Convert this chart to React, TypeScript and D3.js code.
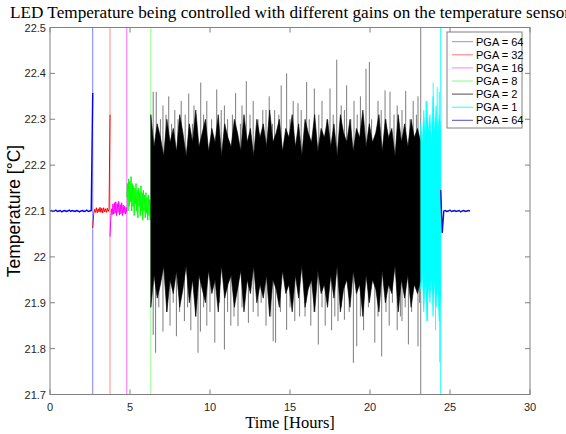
import React from 'react';
import * as d3 from 'd3';

// chart frame
const width = 566;
const height = 434;
const marginTop = 27.5;
const marginRight = 36;
const marginBottom = 39.5;
const marginLeft = 50;

// axis ticks
const xTicks = [0, 5, 10, 15, 20, 25, 30];
const yTicks = [21.7, 21.8, 21.9, 22, 22.1, 22.2, 22.3, 22.4, 22.5];

// legend entries, one per gain segment
const legendLabels = ['PGA = 64', 'PGA = 32', 'PGA = 16', 'PGA = 8', 'PGA = 2', 'PGA = 1', 'PGA = 64'];

// start / end of each segment [hours]
const segStart = [0, 2.67, 3.75, 4.8, 6.3, 23.17, 24.42];
const segEnd = [2.67, 3.75, 4.8, 6.3, 23.17, 24.42, 26.25];

// sparse segments: temperature trace (evenly spaced over the segment)
const blue1Trace = [22.100, 22.101, 22.099, 22.100, 22.102, 22.099, 22.100, 22.101, 22.098, 22.100,
  22.101, 22.099, 22.100, 22.102, 22.099, 22.101, 22.100, 22.099, 22.101, 22.100,
  22.098, 22.100, 22.101, 22.099, 22.100, 22.102, 22.099, 22.100, 22.101, 22.357];
const redTrace = [22.063, 22.092, 22.104, 22.097, 22.107, 22.096, 22.105, 22.098, 22.108, 22.097,
  22.106, 22.096, 22.107, 22.098, 22.105, 22.097, 22.106, 22.099, 22.104, 22.31];
const magentaTrace = [22.044, 22.08, 22.105, 22.092, 22.115, 22.093, 22.118, 22.095, 22.12, 22.09,
  22.116, 22.097, 22.121, 22.091, 22.114, 22.094, 22.118, 22.09, 22.113, 22.096, 22.11, 22.093, 22.108, 22.097];
const greenTrace = [22.13, 22.16, 22.10, 22.17, 22.11, 22.165, 22.12, 22.175, 22.10, 22.16,
  22.11, 22.155, 22.09, 22.15, 22.115, 22.16, 22.10, 22.145, 22.085, 22.15,
  22.11, 22.14, 22.09, 22.155, 22.10, 22.14, 22.08, 22.145, 22.10, 22.135,
  22.085, 22.14, 22.095, 22.13, 22.08, 22.135, 22.09, 22.125, 22.08, 22.12];
const blue2Trace = [22.146, 22.052, 22.100, 22.101, 22.099, 22.100, 22.102, 22.099, 22.100, 22.101,
  22.099, 22.100, 22.101, 22.098, 22.100, 22.101, 22.099, 22.100, 22.101, 22.100];

// dense segments: upper / lower envelope of the noise band
const blackUpper = [22.31, 22.24, 22.29, 22.26, 22.22, 22.30, 22.25, 22.28, 22.23, 22.31,
  22.27, 22.22, 22.29, 22.25, 22.32, 22.24, 22.27, 22.30, 22.23, 22.28,
  22.25, 22.31, 22.22, 22.29, 22.26, 22.24, 22.30, 22.27, 22.23, 22.31,
  22.25, 22.28, 22.22, 22.30, 22.26, 22.29, 22.24, 22.32, 22.25, 22.27,
  22.30, 22.23, 22.28, 22.26, 22.31, 22.24, 22.29, 22.22, 22.30, 22.27,
  22.25, 22.31, 22.23, 22.28, 22.26, 22.30, 22.24, 22.29, 22.22, 22.31,
  22.27, 22.25, 22.30, 22.23, 22.28, 22.26, 22.32, 22.24, 22.29, 22.25,
  22.27, 22.31, 22.23, 22.30, 22.26, 22.28, 22.22, 22.31, 22.25, 22.29,
  22.24, 22.30, 22.26, 22.28, 22.25];
const blackLower = [21.89, 21.96, 21.91, 21.94, 21.98, 21.88, 21.95, 21.92, 21.97, 21.89,
  21.93, 21.98, 21.90, 21.95, 21.87, 21.96, 21.93, 21.90, 21.97, 21.92,
  21.95, 21.88, 21.98, 21.91, 21.94, 21.96, 21.89, 21.93, 21.97, 21.88,
  21.95, 21.92, 21.98, 21.90, 21.94, 21.91, 21.96, 21.87, 21.95, 21.93,
  21.89, 21.97, 21.92, 21.94, 21.88, 21.96, 21.91, 21.98, 21.89, 21.93,
  21.95, 21.88, 21.97, 21.92, 21.94, 21.89, 21.96, 21.91, 21.98, 21.88,
  21.93, 21.95, 21.89, 21.97, 21.92, 21.94, 21.87, 21.96, 21.90, 21.95,
  21.93, 21.88, 21.97, 21.90, 21.94, 21.92, 21.98, 21.88, 21.95, 21.91,
  21.96, 21.89, 21.94, 21.92, 21.95];
// single spikes sticking out of the black band [hours, °C]
const blackSpikes: [number, number][] = [
  [6.45, 22.36], [6.64, 22.36], [7.06, 22.33], [7.42, 22.35], [7.8, 22.32], [8.2, 22.34], [8.67, 22.356],
  [9.0, 22.33], [9.42, 22.38], [9.8, 22.34], [10.42, 22.365], [10.9, 22.33], [11.6, 22.357], [12.0, 22.33],
  [12.27, 22.383], [12.7, 22.34], [13.3, 22.32], [13.7, 22.35], [14.04, 22.32], [14.45, 22.374], [14.79, 22.40],
  [15.2, 22.34], [15.5, 22.335], [16.04, 22.381], [16.52, 22.367], [17.0, 22.34], [17.5, 22.367], [17.92, 22.43],
  [18.2, 22.33], [18.54, 22.374], [19.0, 22.34], [19.4, 22.35], [19.75, 22.41], [19.96, 22.425], [20.5, 22.34],
  [20.94, 22.363], [21.25, 22.36], [21.7, 22.33], [22.23, 22.362], [22.7, 22.34], [23.0, 22.35],
  [6.9, 22.3], [7.25, 22.31], [7.6, 22.29], [8.0, 22.3], [8.45, 22.31], [8.9, 22.29], [9.6, 22.31], [10.1, 22.3],
  [10.7, 22.32], [11.1, 22.3], [11.4, 22.31], [11.9, 22.29], [12.5, 22.31], [13.0, 22.3], [13.5, 22.32],
  [13.9, 22.29], [14.3, 22.31], [15.0, 22.3], [15.7, 22.32], [16.2, 22.3], [16.8, 22.31], [17.3, 22.3],
  [17.7, 22.31], [18.4, 22.32], [18.8, 22.3], [19.2, 22.31], [20.1, 22.3], [20.7, 22.32], [21.0, 22.3],
  [21.5, 22.31], [22.0, 22.32], [22.5, 22.3], [22.9, 22.31],
  [6.45, 21.83], [6.6, 21.791], [7.06, 21.837], [7.5, 21.85], [7.9, 21.827], [8.4, 21.86], [8.8, 21.84],
  [9.25, 21.791], [9.4, 21.837], [9.8, 21.85], [10.3, 21.813], [10.9, 21.798], [11.3, 21.85], [11.75, 21.849],
  [12.4, 21.856], [13.0, 21.87], [13.5, 21.85], [13.95, 21.816], [14.1, 21.813], [14.79, 21.841], [15.3, 21.86],
  [15.94, 21.87], [16.3, 21.85], [16.77, 21.809], [17.2, 21.85], [17.6, 21.84], [18.0, 21.86], [18.4, 21.863],
  [18.96, 21.769], [19.17, 21.805], [19.6, 21.84], [20.3, 21.813], [20.73, 21.783], [21.2, 21.85], [21.7, 21.84],
  [22.0, 21.86], [22.4, 21.809], [23.0, 21.805],
  [6.8, 21.89], [7.3, 21.88], [7.7, 21.9], [8.1, 21.88], [8.6, 21.89], [9.1, 21.87], [9.6, 21.89], [10.0, 21.88],
  [10.6, 21.9], [11.1, 21.88], [11.5, 21.87], [12.0, 21.89], [12.7, 21.88], [13.2, 21.9], [13.8, 21.87],
  [14.4, 21.88], [15.0, 21.89], [15.6, 21.87], [16.0, 21.9], [16.5, 21.88], [17.0, 21.89], [17.8, 21.87],
  [18.2, 21.89], [18.7, 21.88], [19.4, 21.87], [19.9, 21.89], [20.5, 21.87], [21.0, 21.88], [21.4, 21.9],
  [21.9, 21.87], [22.2, 21.89], [22.6, 21.88], [23.1, 21.9]];
const cyanUpper = [22.29, 22.25, 22.32, 22.26, 22.34, 22.27, 22.31, 22.25, 22.35, 22.27, 22.33, 22.26, 22.31, 22.28];
const cyanLower = [21.93, 21.96, 21.88, 21.95, 21.86, 21.94, 21.90, 21.96, 21.87, 21.95, 21.89, 21.94, 21.86, 21.92];
const cyanSpikes: [number, number][] = [[23.5, 22.34], [23.95, 22.38], [24.2, 22.37], [24.33, 22.36],
  [23.6, 21.86], [24.1, 21.84], [24.36, 21.77]];

const colors = ['#0000ff', '#ff0000', '#ff00ff', '#00ff00', '#000000', '#00ffff', '#1010c8'];
const legendOpacity = [0.45, 0.55, 0.5, 0.5, 0.7, 0.85, 0.75];
const jumpOpacity = [0.5, 0.45, 0.6, 0.45, 0.5, 0.9];

const sans = "'Liberation Sans', Arial, Helvetica, sans-serif";
const serif = "'Liberation Serif', 'Times New Roman', serif";

// spread n values evenly over a segment
const spread = (vals: number[], i: number): [number, number][] =>
  vals.map((v, k) => [segStart[i] + (k * (segEnd[i] - segStart[i])) / (vals.length - 1), v]);

const App = () => {
  const x = d3.scaleLinear([0, 30], [marginLeft, width - marginRight]);
  const y = d3.scaleLinear([21.7, 22.5], [height - marginBottom, marginTop]);

  const line = d3.line<[number, number]>()
    .x(d => x(d[0]))
    .y(d => y(d[1]));

  const band = (hi: number[], lo: number[], i: number) => {
    const h = spread(hi, i);
    const l = spread(lo, i);
    return d3.area<number>()
      .x(k => x(h[k][0]))
      .y0(k => y(l[k][1]))
      .y1(k => y(h[k][1]))(d3.range(h.length)) as string;
  };

  const traces: (number[] | null)[] = [blue1Trace, redTrace, magentaTrace, greenTrace, null, null, blue2Trace];

  const plotW = width - marginLeft - marginRight;
  const plotH = height - marginTop - marginBottom;

  const legX = 447;
  const legY = 32;
  const legRow = 13.1;

  return (
    <svg width={width} height={height} viewBox={`0 0 ${width} ${height}`}
      style={{ position: 'fixed', left: 0, top: 0, background: '#fff' }}>
      <rect width={width} height={height} fill="#fff" />
      <defs>
        <clipPath id="plot">
          <rect x={marginLeft} y={marginTop} width={plotW} height={plotH} />
        </clipPath>
      </defs>

      <g clipPath="url(#plot)">
        {segStart.map((_, i) => (
          <g key={i}>
            {traces[i] && (
              <path d={line(spread(traces[i] as number[], i)) as string} fill="none"
                stroke={colors[i]} strokeWidth={i === 0 || i === 6 ? 1.4 : 1} />
            )}
            {i === 4 && (
              <>
                <path d={band(blackUpper, blackLower, 4)} fill="#000" stroke="#000" strokeWidth={0.6} />
                {blackSpikes.map((s, k) => (
                  <line key={k} x1={x(s[0])} x2={x(s[0])} y1={y(22.1)} y2={y(s[1])}
                    stroke="#000" strokeWidth={0.8} strokeOpacity={0.65} />
                ))}
              </>
            )}
            {i === 5 && (
              <>
                <path d={band(cyanUpper, cyanLower, 5)} fill={colors[5]} stroke={colors[5]} strokeWidth={0.6} />
                {cyanSpikes.map((s, k) => (
                  <line key={k} x1={x(s[0])} x2={x(s[0])} y1={y(22.1)} y2={y(s[1])}
                    stroke={colors[5]} strokeWidth={0.9} />
                ))}
              </>
            )}
            {i < 6 && (
              <line x1={x(segEnd[i])} x2={x(segEnd[i])} y1={y(21.7)} y2={y(22.5)}
                stroke={colors[i]} strokeWidth={1} strokeOpacity={jumpOpacity[i]} />
            )}
          </g>
        ))}
      </g>

      {/* axes box with inward ticks on all sides */}
      <rect x={marginLeft} y={marginTop} width={plotW} height={plotH} fill="none" stroke="#808080" strokeWidth={1} />
      {xTicks.map(t => (
        <g key={t}>
          <line x1={x(t)} x2={x(t)} y1={y(21.7)} y2={y(21.7) - 5} stroke="#808080" />
          <line x1={x(t)} x2={x(t)} y1={y(22.5)} y2={y(22.5) + 5} stroke="#808080" />
          <text x={x(t)} y={height - marginBottom + 16} textAnchor="middle" fontFamily={sans} fontSize={11} fill="#262626">{t}</text>
        </g>
      ))}
      {yTicks.map(t => (
        <g key={t}>
          <line x1={x(0)} x2={x(0) + 5} y1={y(t)} y2={y(t)} stroke="#808080" />
          <line x1={x(30)} x2={x(30) - 5} y1={y(t)} y2={y(t)} stroke="#808080" />
          <text x={marginLeft - 4} y={y(t) + 4} textAnchor="end" fontFamily={sans} fontSize={11} fill="#262626">{t}</text>
        </g>
      ))}

      {/* titles */}
      <text x={marginLeft + plotW / 2} y={18} textAnchor="middle" fontFamily={serif} fontSize={17}
        textLength={560} lengthAdjust="spacingAndGlyphs">
        LED Temperature being controlled with different gains on the temperature sensor
      </text>
      <text x={marginLeft + plotW / 2} y={428} textAnchor="middle" fontFamily={serif} fontSize={16.5}>
        Time [Hours]
      </text>
      <text transform={`translate(20,${marginTop + plotH / 2}) rotate(-90)`} textAnchor="middle"
        fontFamily={sans} fontSize={17.5}>
        Temperature [°C]
      </text>

      {/* legend */}
      <rect x={legX} y={legY} width={75} height={96} fill="#fff" stroke="#808080" strokeWidth={1} />
      {legendLabels.map((lab, i) => (
        <g key={i} transform={`translate(0,${legY + 9.7 + i * legRow})`}>
          <line x1={legX + 5} x2={legX + 26} y1={0} y2={0} stroke={colors[i]} strokeOpacity={legendOpacity[i]} />
          <text x={legX + 29} y={4} fontFamily={sans} fontSize={11} fill="#000">{lab}</text>
        </g>
      ))}
    </svg>
  );
};

export default App;
